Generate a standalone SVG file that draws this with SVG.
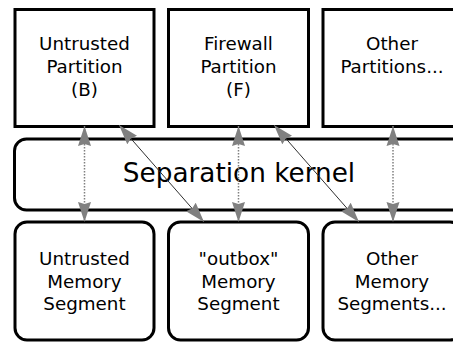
<svg xmlns="http://www.w3.org/2000/svg" width="453" height="343" viewBox="0 0 453 343">
  <defs>
    <style>
      .box { fill: #ffffff; stroke: #000000; stroke-width: 3; }
      .label { font-family: "DejaVu Sans", "Liberation Sans", sans-serif; font-size: 18.3px; fill: #000000; text-anchor: middle; }
      .big { font-size: 26.3px; }
      .dotted { stroke: #808080; stroke-width: 1.5; stroke-dasharray: 1.5 1.5; fill: none; }
      .diag { stroke: #303030; stroke-width: 1; fill: none; }
    </style>
    <marker id="head" markerUnits="userSpaceOnUse" markerWidth="20" markerHeight="14" refX="20" refY="7" orient="auto-start-reverse" viewBox="0 0 20 14">
      <path d="M0,0.5 L20,7 L0,13.5 L2,7 z" fill="#808080"/>
    </marker>
  </defs>

  <rect width="453" height="343" fill="#ffffff"/>

  <!-- partitions -->
  <g id="untrusted-partition">
    <rect class="box" x="15" y="9.5" width="139" height="117"/>
    <text class="label" x="84.5" y="50">Untrusted</text>
    <text class="label" x="84.5" y="73">Partition</text>
    <text class="label" x="84.5" y="95.5">(B)</text>
  </g>
  <g id="firewall-partition">
    <rect class="box" x="168.5" y="9.5" width="140" height="117"/>
    <text class="label" x="238.5" y="50">Firewall</text>
    <text class="label" x="238.5" y="73">Partition</text>
    <text class="label" x="238.5" y="95.5">(F)</text>
  </g>
  <g id="other-partitions">
    <rect class="box" x="323" y="9.5" width="139" height="117"/>
    <text class="label" x="392" y="50">Other</text>
    <text class="label" x="392" y="73">Partitions...</text>
  </g>

  <!-- kernel -->
  <g id="separation-kernel">
    <rect class="box" x="14.5" y="139" width="460" height="71" rx="12" ry="12"/>
    <text class="label big" x="239" y="182">Separation kernel</text>
  </g>

  <!-- memory segments -->
  <g id="untrusted-memory">
    <rect class="box" x="15" y="222" width="139" height="118" rx="12" ry="12"/>
    <text class="label" x="84.5" y="265">Untrusted</text>
    <text class="label" x="84.5" y="288">Memory</text>
    <text class="label" x="84.5" y="310">Segment</text>
  </g>
  <g id="outbox-memory">
    <rect class="box" x="168.5" y="222" width="140" height="118" rx="12" ry="12"/>
    <text class="label" x="238.5" y="265">"outbox"</text>
    <text class="label" x="238.5" y="288">Memory</text>
    <text class="label" x="238.5" y="310">Segment</text>
  </g>
  <g id="other-memory">
    <rect class="box" x="323" y="222" width="139" height="118" rx="12" ry="12"/>
    <text class="label" x="392" y="265">Other</text>
    <text class="label" x="392" y="288">Memory</text>
    <text class="label" x="392" y="310">Segments...</text>
  </g>

  <!-- connectors -->
  <g id="connectors">
    <line class="dotted" x1="84.5" y1="126" x2="84.5" y2="222" marker-start="url(#head)" marker-end="url(#head)"/>
    <line class="dotted" x1="238.5" y1="126" x2="238.5" y2="222" marker-start="url(#head)" marker-end="url(#head)"/>
    <line class="dotted" x1="393" y1="126" x2="393" y2="222" marker-start="url(#head)" marker-end="url(#head)"/>
    <line class="diag" x1="119" y1="125" x2="204" y2="222" marker-start="url(#head)" marker-end="url(#head)"/>
    <line class="diag" x1="274" y1="125" x2="359" y2="222" marker-start="url(#head)" marker-end="url(#head)"/>
  </g>
</svg>
